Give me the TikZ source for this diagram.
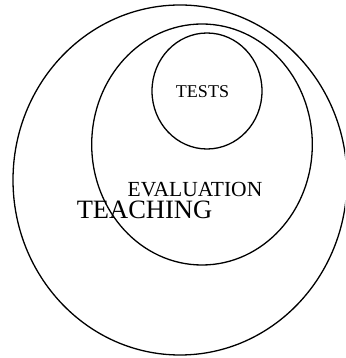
\documentclass[tikz,border=0pt]{standalone}
\usepackage{fontspec}
\setmainfont{Liberation Serif}
\usepackage{tikz}

\begin{document}
\begin{tikzpicture}[x=1pt, y=1pt]
      \useasboundingbox (0,0) rectangle (345,358);
      \clip (0,0) rectangle (345,358);

      \draw [line width=1.3pt] (180,178) ellipse [x radius=167, y radius=175];
      \draw [line width=1.3pt] (202,213.5) ellipse [x radius=110.3, y radius=120.5];
      \draw [line width=1.3pt] (207,267) ellipse [x radius=55, y radius=58];

      \node (tests) at (202.5,260.3) [anchor=base, inner sep=0pt, 
         font=\fontsize{18}{18}\selectfont] {TESTS};
      \node (evaluation) at (195,161.3) [anchor=base, inner sep=0pt, 
         font=\fontsize{21.5}{21.5}\selectfont] {EVALUATION};
      \node (teaching) at (144.5,139.7) [anchor=base, inner sep=0pt, 
         font=\fontsize{26.5}{26.5}\selectfont] {TEACHING};
   \end{tikzpicture}
\end{document}
